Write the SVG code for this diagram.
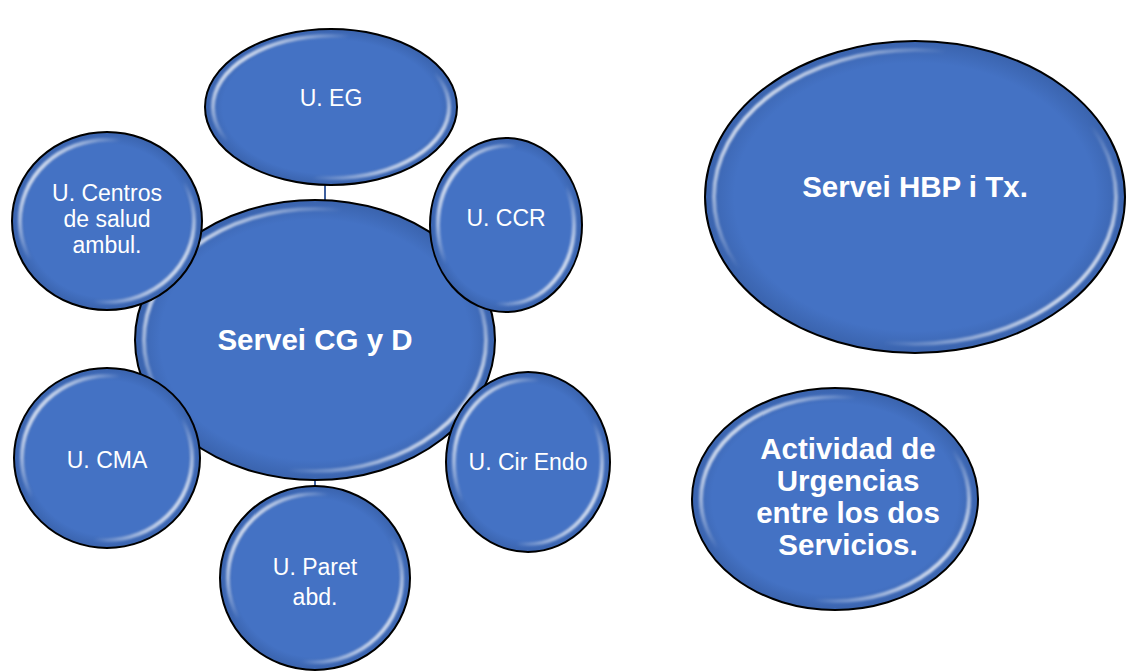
<svg xmlns="http://www.w3.org/2000/svg" width="1128" height="672" viewBox="0 0 1128 672">
<defs>
<linearGradient id="rim" x1="0" y1="0.15" x2="1" y2="0.85">
<stop offset="0" stop-color="#ffffff" stop-opacity="1"/>
<stop offset="0.32" stop-color="#ffffff" stop-opacity="0"/>
<stop offset="0.68" stop-color="#ffffff" stop-opacity="0"/>
<stop offset="1" stop-color="#ffffff" stop-opacity="1"/>
</linearGradient>
<radialGradient id="shade" cx="0.5" cy="0.5" r="0.5">
<stop offset="0.86" stop-color="#4472C4"/>
<stop offset="1" stop-color="#3a63ad"/>
</radialGradient>
<filter id="soft" x="-10%" y="-10%" width="120%" height="120%">
<feGaussianBlur stdDeviation="1.1"/>
</filter>
</defs>
<style>
.body{fill:url(#shade);stroke:#000;stroke-width:2}
.rim{fill:none;stroke:url(#rim);stroke-width:4;filter:url(#soft)}
.t{fill:#fff;font-family:"Liberation Sans",Arial,sans-serif;font-size:23px;text-anchor:middle}
.b{fill:#fff;font-family:"Liberation Sans",Arial,sans-serif;font-size:29.5px;font-weight:bold;text-anchor:middle}
.c{stroke:#3d5f9e;stroke-width:2}
</style>
<rect width="1128" height="672" fill="#fff"/>
<g id="connectors">
<line class="c" x1="325" y1="184" x2="325" y2="202"/>
<line class="c" x1="315" y1="478" x2="315" y2="487"/>
</g>
<g id="n-cgd">
<ellipse class="body" cx="315" cy="340" rx="180" ry="140"/>
<ellipse class="rim" cx="315" cy="340" rx="171" ry="131"/>
<text class="b" x="315" y="350">Servei CG y D</text>
</g>
<g id="n-eg">
<ellipse class="body" cx="331" cy="107" rx="126" ry="78"/>
<ellipse class="rim" cx="331" cy="107" rx="118" ry="71"/>
<text class="t" x="331" y="106">U. EG</text>
</g>
<g id="n-centros">
<ellipse class="body" cx="107" cy="221" rx="95" ry="89"/>
<ellipse class="rim" cx="107" cy="221" rx="87" ry="81"/>
<text class="t" x="107" y="201">U. Centros</text>
<text class="t" x="107" y="227">de salud</text>
<text class="t" x="107" y="253">ambul.</text>
</g>
<g id="n-ccr">
<ellipse class="body" cx="506" cy="225" rx="76" ry="87"/>
<ellipse class="rim" cx="506" cy="225" rx="68" ry="79"/>
<text class="t" x="506" y="226">U. CCR</text>
</g>
<g id="n-cma">
<ellipse class="body" cx="107" cy="458" rx="93" ry="90"/>
<ellipse class="rim" cx="107" cy="458" rx="85" ry="82"/>
<text class="t" x="107" y="468">U. CMA</text>
</g>
<g id="n-endo">
<ellipse class="body" cx="528" cy="462" rx="82" ry="90"/>
<ellipse class="rim" cx="528" cy="462" rx="74" ry="82"/>
<text class="t" x="528" y="470">U. Cir Endo</text>
</g>
<g id="n-paret">
<ellipse class="body" cx="315" cy="578" rx="95" ry="92"/>
<ellipse class="rim" cx="315" cy="578" rx="87" ry="84"/>
<text class="t" x="315" y="575">U. Paret</text>
<text class="t" x="315" y="605">abd.</text>
</g>
<g id="n-hbp">
<ellipse class="body" cx="915" cy="197" rx="210" ry="156"/>
<ellipse class="rim" cx="915" cy="197" rx="201" ry="147"/>
<text class="b" x="915" y="197">Servei HBP i Tx.</text>
</g>
<g id="n-urg">
<ellipse class="body" cx="835" cy="499" rx="143" ry="111"/>
<ellipse class="rim" cx="835" cy="499" rx="134" ry="102"/>
<text class="b" x="848" y="459">Actividad de</text>
<text class="b" x="848" y="491">Urgencias</text>
<text class="b" x="848" y="523">entre los dos</text>
<text class="b" x="848" y="555">Servicios.</text>
</g>
</svg>
